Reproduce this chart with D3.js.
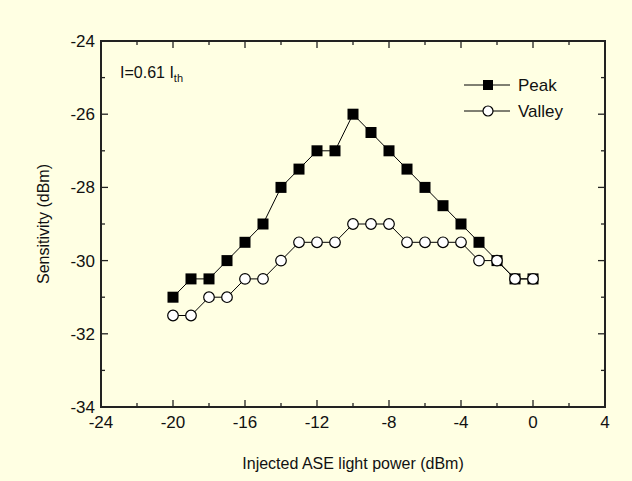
<!DOCTYPE html>
<html lang="en">
<head>
  <meta charset="UTF-8">
  <script type="text/javascript" src="https://cdn.jsdelivr.net/npm/d3@7/dist/d3.min.js"></script>
  <title>Sensitivity vs injected ASE power</title>
  <style>
    body { margin: 0; background: #ffffe3; }
    text { font-family: 'Liberation Sans', Arial, sans-serif; fill: #111; }
    .ticks_text { font-size: 17px; }
    .axis_text { font-size: 16px; }
    .legend_text { font-size: 17px; }
  </style>
</head>
<body>
<div id="chart"></div>
<script>
  // injected ASE power (dBm)
  var power = [-20, -19, -18, -17, -16, -15, -14, -13, -12, -11, -10,
               -9, -8, -7, -6, -5, -4, -3, -2, -1, 0];
  var peak = [-31, -30.5, -30.5, -30, -29.5, -29, -28, -27.5, -27, -27, -26,
              -26.5, -27, -27.5, -28, -28.5, -29, -29.5, -30, -30.5, -30.5];
  var valley = [-31.5, -31.5, -31, -31, -30.5, -30.5, -30, -29.5, -29.5, -29.5, -29,
                -29, -29, -29.5, -29.5, -29.5, -29.5, -30, -30, -30.5, -30.5];
  var xTicks = [-24, -20, -16, -12, -8, -4, 0, 4];
  var yTicks = [-34, -32, -30, -28, -26, -24];

  var W = 632, H = 481;
  var pl = 101, pr = 605, pt = 41, pb = 407;

  var svg = d3.select('#chart').append('svg')
    .attr('width', W).attr('height', H);

  svg.append('rect').attr('width', W).attr('height', H).style('fill', '#ffffe3');

  var x = d3.scaleLinear().domain([-24, 4]).range([pl, pr]);
  var y = d3.scaleLinear().domain([-34, -24]).range([pb, pt]);

  var minorX = d3.range(-24, 4.01, 2);
  var minorY = d3.range(-34, -23.99, 1);

  // ticks on all four sides, pointing inwards
  var tk = svg.append('g').style('stroke', '#222').style('stroke-width', 1.3);
  minorX.forEach(function(v) {
    var len = xTicks.indexOf(v) >= 0 ? 7 : 4;
    tk.append('line').attr('x1', x(v)).attr('x2', x(v)).attr('y1', pb).attr('y2', pb - len);
    tk.append('line').attr('x1', x(v)).attr('x2', x(v)).attr('y1', pt).attr('y2', pt + len);
  });
  minorY.forEach(function(v) {
    var len = yTicks.indexOf(v) >= 0 ? 7 : 4;
    tk.append('line').attr('y1', y(v)).attr('y2', y(v)).attr('x1', pl).attr('x2', pl + len);
    tk.append('line').attr('y1', y(v)).attr('y2', y(v)).attr('x1', pr).attr('x2', pr - len);
  });

  svg.append('rect')
    .attr('x', pl).attr('y', pt)
    .attr('width', pr - pl).attr('height', pb - pt)
    .style('fill', 'none').style('stroke', '#222').style('stroke-width', 2);

  // tick labels
  svg.selectAll('.xl').data(xTicks).enter().append('text')
    .attr('class', 'ticks_text')
    .attr('x', function(d) { return x(d); })
    .attr('y', pb + 21)
    .attr('text-anchor', 'middle')
    .text(function(d) { return d; });

  svg.selectAll('.yl').data(yTicks).enter().append('text')
    .attr('class', 'ticks_text')
    .attr('x', pl - 6)
    .attr('y', function(d) { return y(d) + 6; })
    .attr('text-anchor', 'end')
    .text(function(d) { return d; });

  // axis titles
  svg.append('text')
    .attr('class', 'axis_text')
    .attr('x', (pl + pr) / 2)
    .attr('y', 469)
    .attr('text-anchor', 'middle')
    .text('Injected ASE light power (dBm)');

  svg.append('text')
    .attr('class', 'axis_text')
    .attr('transform', 'translate(49,' + ((pt + pb) / 2) + ') rotate(-90)')
    .attr('text-anchor', 'middle')
    .text('Sensitivity (dBm)');

  // annotation
  var ann = svg.append('text').attr('class', 'axis_text').attr('x', 120).attr('y', 78);
  ann.append('tspan').text('I=0.61 I');
  ann.append('tspan').attr('dy', 4).style('font-size', '11px').text('th');

  function series(vals, kind) {
    var pts = power.map(function(p, i) { return [p, vals[i]]; });
    var line = d3.line().x(function(d) { return x(d[0]); }).y(function(d) { return y(d[1]); });
    svg.append('path').attr('d', line(pts))
      .style('fill', 'none').style('stroke', '#000').style('stroke-width', 1);
    if (kind === 'square') {
      svg.selectAll('.sq').data(pts).enter().append('rect')
        .attr('x', function(d) { return x(d[0]) - 5.5; })
        .attr('y', function(d) { return y(d[1]) - 5.5; })
        .attr('width', 11).attr('height', 11)
        .style('fill', '#000');
    } else {
      svg.selectAll('.ci').data(pts).enter().append('circle')
        .attr('cx', function(d) { return x(d[0]); })
        .attr('cy', function(d) { return y(d[1]); })
        .attr('r', 5.3)
        .style('fill', '#fff').style('stroke', '#000').style('stroke-width', 1.2);
    }
  }
  series(peak, 'square');
  series(valley, 'circle');

  // legend
  var lg = svg.append('g');
  [[85, 'Peak', 'square'], [111, 'Valley', 'circle']].forEach(function(r) {
    lg.append('line').attr('x1', 464).attr('x2', 510).attr('y1', r[0]).attr('y2', r[0])
      .style('stroke', '#000').style('stroke-width', 1);
    if (r[2] === 'square') {
      lg.append('rect').attr('x', 483).attr('y', r[0] - 5).attr('width', 10).attr('height', 10).style('fill', '#000');
    } else {
      lg.append('circle').attr('cx', 488).attr('cy', r[0]).attr('r', 5)
        .style('fill', '#fff').style('stroke', '#000').style('stroke-width', 1.2);
    }
    lg.append('text').attr('class', 'legend_text').attr('x', 518).attr('y', r[0] + 6).text(r[1]);
  });
</script>
</body>
</html>
